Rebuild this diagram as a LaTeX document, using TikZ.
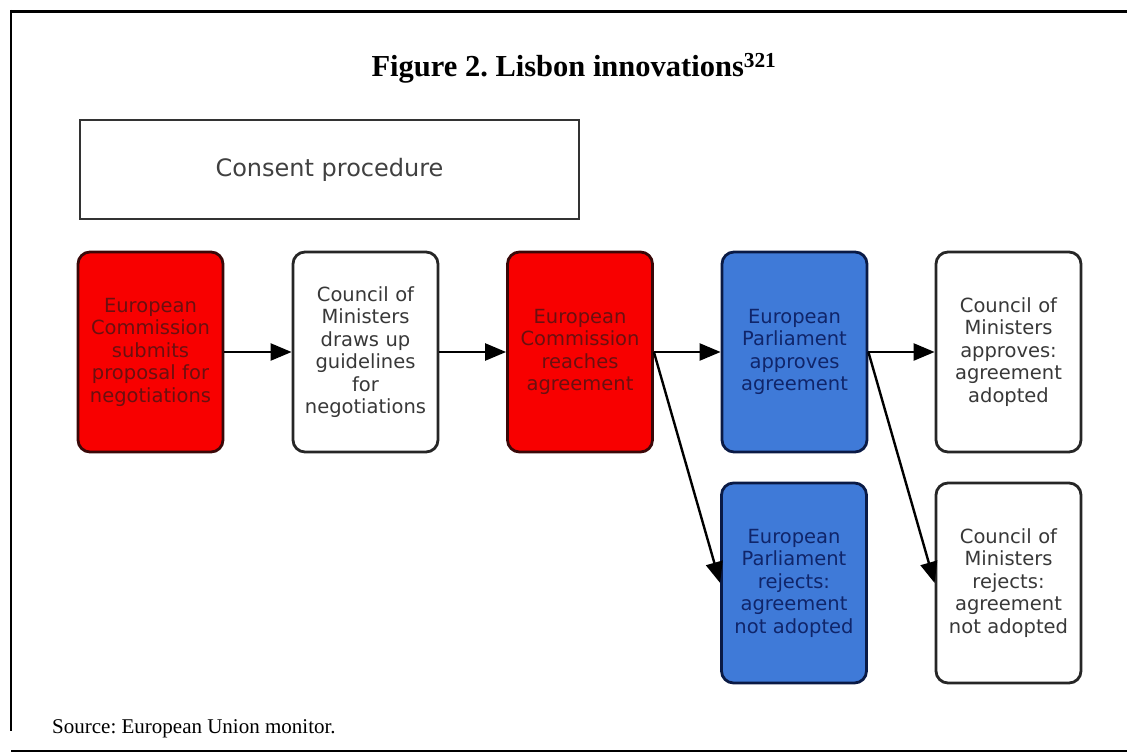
\documentclass[tikz,border=0pt]{standalone}
\usepackage{fontspec}
\setmainfont{Liberation Serif}
\newfontfamily\boxfont{DejaVu Sans}
\usetikzlibrary{arrows.meta}
\frenchspacing
\definecolor{redfill}{HTML}{F80000}
\definecolor{redtext}{HTML}{6A1010}
\definecolor{redline}{HTML}{3A0808}
\definecolor{bluefill}{HTML}{3F7AD8}
\definecolor{bluetext}{HTML}{10256A}
\definecolor{blueline}{HTML}{0A1A45}
\definecolor{graytext}{HTML}{383838}
\begin{document}
\begin{tikzpicture}[x=1pt,y=-1pt,
  stepbox/.style={rounded corners=12pt, line width=2.8pt, minimum width=145pt, minimum height=200pt,
    inner sep=0pt, align=center, text width=140pt,
    font=\boxfont\fontsize{19.5}{22.5}\selectfont},
  redbox/.style={stepbox, draw=redline, fill=redfill, text=redtext},
  bluebox/.style={stepbox, draw=blueline, fill=bluefill, text=bluetext},
  whitebox/.style={stepbox, draw=black!85, fill=white, text=graytext},
  arr/.style={line width=2.4pt, -{Triangle[length=21pt,width=17pt]}}
]
\useasboundingbox (0,0) rectangle (1127,752);
% frame
\draw[line width=3.2pt] (10,11.5) -- (1127,11.5);
\draw[line width=2.8pt] (11,10) -- (11,731);
\draw[line width=2.6pt] (11,751) -- (1127,751);
% title
\node[anchor=base, font=\fontsize{30.5}{34}\selectfont\bfseries, inner sep=0pt] (title) at (574,77) {Figure 2. Lisbon innovations\textsuperscript{321}};
% consent box
\node[draw=black!80, line width=2.8pt, minimum width=499pt, minimum height=99pt, inner sep=0pt,
  font=\boxfont\fontsize{24}{28}\selectfont, text=black!75] (consent) at (329.5,169.5) {Consent procedure};
% boxes
\node[redbox] (b1) at (150.5,352) {European\\Commission\\submits\\proposal for\\negotiations};
\node[whitebox] (b2) at (365.5,352) {Council of\\Ministers\\draws up\\guidelines\\for\\negotiations};
\node[redbox] (b3) at (580,352) {European\\Commission\\reaches\\agreement};
\node[bluebox] (b4) at (794.5,352) {European\\Parliament\\approves\\agreement};
\node[whitebox] (b5) at (1008.5,352) {Council of\\Ministers\\approves:\\agreement\\adopted};
\node[bluebox] (b6) at (794,583) {European\\Parliament\\rejects:\\agreement\\not adopted};
\node[whitebox] (b7) at (1008.5,583) {Council of\\Ministers\\rejects:\\agreement\\not adopted};
% arrows
\draw[arr] (b1.east) -- (b2.west);
\draw[arr] (b2.east) -- (b3.west);
\draw[arr] (b3.east) -- (b4.west);
\draw[arr] (b4.east) -- (b5.west);
\draw[arr] (b3.east) -- (b6.west);
\draw[arr] (b4.east) -- (b7.west);
% source
\node[anchor=base west, font=\fontsize{21}{24}\selectfont, inner sep=0pt] (src) at (52,733) {Source: European Union monitor.};
\end{tikzpicture}
\end{document}
